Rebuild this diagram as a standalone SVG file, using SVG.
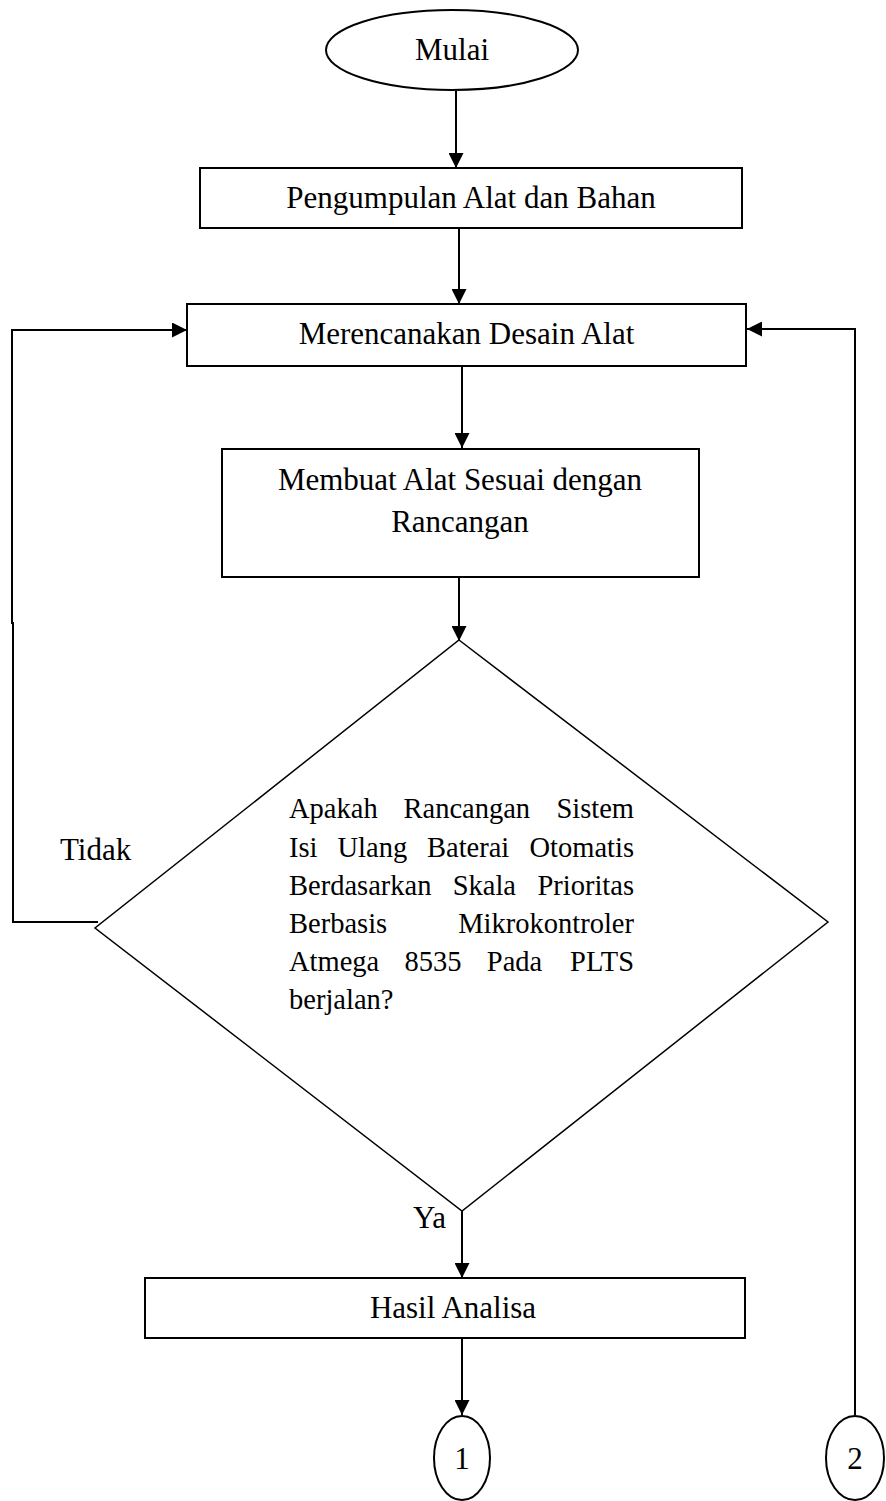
<svg xmlns="http://www.w3.org/2000/svg" width="886" height="1501" viewBox="0 0 886 1501">
<style>
.shape{fill:#fff;stroke:#000;stroke-width:2}
.dia{fill:#fff;stroke:#000;stroke-width:1.5}
.line{fill:none;stroke:#000;stroke-width:2}
text{font-family:"Liberation Serif","Times New Roman",serif;fill:#000}
.t{font-size:31px}
.d{font-size:28.5px}
.c{text-anchor:middle}
.e{text-anchor:end}
</style>
<defs>
<marker id="ah" viewBox="0 0 10 10" refX="10" refY="5" markerWidth="7.5" markerHeight="7.5" markerUnits="strokeWidth" orient="auto">
<path d="M0,0 L10,5 L0,10 z" fill="#000"/>
</marker>
</defs>
<g id="connectors">
<line class="line" x1="456" y1="91" x2="456" y2="168" marker-end="url(#ah)"/>
<line class="line" x1="459" y1="229" x2="459" y2="304" marker-end="url(#ah)"/>
<line class="line" x1="462" y1="367" x2="462" y2="448" marker-end="url(#ah)"/>
<line class="line" x1="459" y1="578" x2="459" y2="641" marker-end="url(#ah)"/>
<line class="line" x1="462" y1="1211" x2="462" y2="1278" marker-end="url(#ah)"/>
<line class="line" x1="462" y1="1339" x2="462" y2="1415" marker-end="url(#ah)"/>
<polyline class="line" points="98,922 13,922 13,623 12,623 12,330 187,330" marker-end="url(#ah)"/>
<polyline class="line" points="855,1415 855,329 747,329" marker-end="url(#ah)"/>
</g>
<g id="mulai">
<ellipse class="shape" cx="452" cy="50" rx="126" ry="40"/>
<text class="t c" x="452" y="60">Mulai</text>
</g>
<g id="pengumpulan">
<rect class="shape" x="200" y="168" width="542" height="60"/>
<text class="t c" x="471" y="208">Pengumpulan Alat dan Bahan</text>
</g>
<g id="merencanakan">
<rect class="shape" x="187" y="304" width="559" height="62"/>
<text class="t c" x="466.5" y="344">Merencanakan Desain Alat</text>
</g>
<g id="membuat">
<rect class="shape" x="222" y="449" width="477" height="128"/>
<text class="t c" x="460" y="490">Membuat Alat Sesuai dengan</text>
<text class="t c" x="460" y="532">Rancangan</text>
</g>
<g id="keputusan">
<polygon class="dia" points="459,640 828,922 462,1211 95,928"/>
<text class="d" y="818"><tspan x="289">Apakah</tspan><tspan x="403.5">Rancangan</tspan></text>
<text class="d e" x="634" y="818">Sistem</text>
<text class="d" y="857"><tspan x="289">Isi</tspan><tspan x="337.5">Ulang</tspan><tspan x="427">Baterai</tspan></text>
<text class="d e" x="634" y="857">Otomatis</text>
<text class="d" y="895"><tspan x="289">Berdasarkan</tspan><tspan x="452.7">Skala</tspan></text>
<text class="d e" x="634" y="895">Prioritas</text>
<text class="d" x="289" y="933">Berbasis</text>
<text class="d e" x="634" y="933">Mikrokontroler</text>
<text class="d" y="971"><tspan x="289">Atmega</tspan><tspan x="404.5">8535</tspan><tspan x="486.8">Pada</tspan></text>
<text class="d e" x="634" y="971">PLTS</text>
<text class="d" x="289" y="1009">berjalan?</text>
</g>
<g id="label-tidak">
<text class="t" x="60" y="860">Tidak</text>
</g>
<g id="label-ya">
<text class="t" x="413" y="1228">Ya</text>
</g>
<g id="hasil">
<rect class="shape" x="145" y="1278" width="600" height="60"/>
<text class="t c" x="453" y="1318">Hasil Analisa</text>
</g>
<g id="konektor1">
<ellipse class="shape" cx="462" cy="1458" rx="28" ry="42"/>
<text class="t c" x="462" y="1469">1</text>
</g>
<g id="konektor2">
<ellipse class="shape" cx="855" cy="1458" rx="29" ry="42"/>
<text class="t c" x="855" y="1469">2</text>
</g>
</svg>
